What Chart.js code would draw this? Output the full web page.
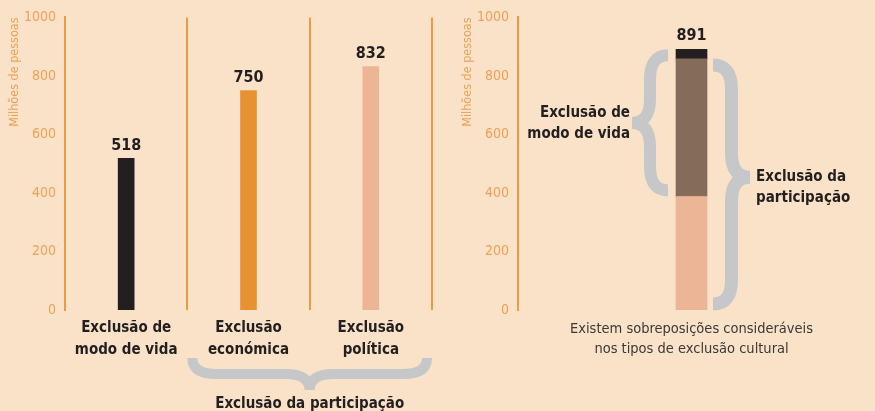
<!DOCTYPE html>
<html>
<head>
<meta charset="utf-8">
<script src="https://cdn.jsdelivr.net/npm/chart.js@4.4.1/dist/chart.umd.min.js"></script>
<style>
  html, body { margin: 0; padding: 0; background: #f9e2c7; }
  #wrap { position: relative; width: 875px; height: 411px; overflow: hidden; }
  #left { position: absolute; left: 0; top: 0; }
  #right { position: absolute; left: 440px; top: 0; }
</style>
</head>
<body>
<div id="wrap">
  <canvas id="left" width="440" height="411"></canvas>
  <canvas id="right" width="435" height="411"></canvas>
</div>
<script>
// left chart: people per type of cultural exclusion (millions)
const categories = [["Exclusão de", "modo de vida"], ["Exclusão", "económica"], ["Exclusão", "política"]];
const peopleMillions = [518, 750, 832];
const groupLabel = "Exclusão da participação";   // brace under the last two categories

// right chart: overlap between the two kinds of exclusion
const overlapCategory = [["Existem sobreposições consideráveis", "nos tipos de exclusão cultural"]];
const participationOnly = [388];
const bothKinds = [470];
const livingModeOnly = [33];
const leftBraceLabel = ["Exclusão de", "modo de vida"];
const rightBraceLabel = ["Exclusão da", "participação"];

const yTicks = { min: 0, max: 1000, step: 200 };
const yTitle = "Milhões de pessoas";

const NARROW = "'Liberation Sans Narrow', 'DejaVu Sans Condensed', sans-serif";
const ORANGE = '#ec9a45';
const TICK = '#eca158';
const DARK = '#231f20';
const GREY = '#c6c7c8';

Chart.defaults.font.family = NARROW;

function yScale(width) {
  return {
    min: yTicks.min, max: yTicks.max,
    ticks: { stepSize: yTicks.step, color: TICK, font: { size: 14 }, padding: 9, callback: (v) => String(v) },
    grid: { display: false, drawTicks: false },
    border: { display: true, color: ORANGE, width: 2 },
    afterFit: (s) => { s.width = width; }
  };
}

// rotated axis title at the top of the axis
const axisTitle = {
  id: 'axisTitle',
  afterDraw(chart, args, opts) {
    const { ctx, chartArea } = chart;
    ctx.save();
    ctx.translate(opts.x, chartArea.top);
    ctx.rotate(-Math.PI / 2);
    ctx.font = `12.5px ${NARROW}`;
    ctx.fillStyle = TICK;
    ctx.textAlign = 'right';
    ctx.textBaseline = 'middle';
    ctx.fillText(yTitle, 0, 0);
    ctx.restore();
  }
};

// total above each bar
const totals = {
  id: 'totals',
  afterDatasetsDraw(chart) {
    const { ctx } = chart;
    const sets = chart.data.datasets;
    const top = chart.getDatasetMeta(sets.length - 1);
    ctx.save();
    ctx.font = `bold 16px ${NARROW}`;
    ctx.fillStyle = DARK;
    ctx.textAlign = 'center';
    ctx.textBaseline = 'middle';
    top.data.forEach((bar, i) => {
      const total = sets.reduce((s, d) => s + d.data[i], 0);
      ctx.fillText(total, bar.x, bar.y - 13);
    });
    ctx.restore();
  }
};

// vertical curly brace, tip on the side of xTip
function braceV(ctx, xEnd, xTip, yTop, yBot, t, w) {
  const xBar = (xEnd + xTip) / 2;
  const yMid = yTop + (yBot - yTop) * t;
  const r = 24;
  ctx.lineWidth = w;
  ctx.lineCap = 'butt';
  ctx.beginPath();
  ctx.moveTo(xEnd, yTop);
  ctx.quadraticCurveTo(xBar, yTop, xBar, yTop + r);
  ctx.lineTo(xBar, yMid - r);
  ctx.quadraticCurveTo(xBar, yMid, xTip, yMid);
  ctx.moveTo(xEnd, yBot);
  ctx.quadraticCurveTo(xBar, yBot, xBar, yBot - r);
  ctx.lineTo(xBar, yMid + r);
  ctx.quadraticCurveTo(xBar, yMid, xTip, yMid);
  ctx.stroke();
  return yMid;
}

// horizontal brace, opening upwards
function braceH(ctx, xLeft, xRight, yEnd, yTip, w) {
  const yBar = (yEnd + yTip) / 2;
  const xMid = (xLeft + xRight) / 2;
  const r = 24;
  ctx.lineWidth = w;
  ctx.lineCap = 'butt';
  ctx.beginPath();
  ctx.moveTo(xLeft, yEnd);
  ctx.quadraticCurveTo(xLeft, yBar, xLeft + r, yBar);
  ctx.lineTo(xMid - r, yBar);
  ctx.quadraticCurveTo(xMid, yBar, xMid, yTip);
  ctx.moveTo(xRight, yEnd);
  ctx.quadraticCurveTo(xRight, yBar, xRight - r, yBar);
  ctx.lineTo(xMid + r, yBar);
  ctx.quadraticCurveTo(xMid, yBar, xMid, yTip);
  ctx.stroke();
  return xMid;
}

const groupBrace = {
  id: 'groupBrace',
  afterDraw(chart) {
    const { ctx, chartArea } = chart;
    const x = chart.scales.x;
    const half = (x.getPixelForValue(1) - x.getPixelForValue(0)) / 2;
    const xl = x.getPixelForValue(1) - half + 5;
    const xr = x.getPixelForValue(2) + half - 5;
    ctx.save();
    ctx.strokeStyle = GREY;
    const xm = braceH(ctx, xl, xr, chartArea.bottom + 48, chartArea.bottom + 80, 10);
    ctx.font = `bold 15px ${NARROW}`;
    ctx.fillStyle = DARK;
    ctx.textAlign = 'center';
    ctx.textBaseline = 'middle';
    ctx.fillText(groupLabel, xm, chartArea.bottom + 94);
    ctx.restore();
  }
};

const overlapBraces = {
  id: 'overlapBraces',
  afterDraw(chart) {
    const { ctx } = chart;
    const y = chart.scales.y;
    const bar = chart.getDatasetMeta(0).data[0];
    const bl = bar.x - bar.width / 2, br = bar.x + bar.width / 2;
    const total = participationOnly[0] + bothKinds[0] + livingModeOnly[0];
    ctx.save();
    ctx.strokeStyle = GREY;
    // living mode exclusion: top of bar down to end of participation-only part
    const ly = braceV(ctx, bl - 8, bl - 44, y.getPixelForValue(total) + 6,
      y.getPixelForValue(participationOnly[0]) - 6, 0.5, 12);
    // participation exclusion: bottom of bar up to end of overlap part
    const ry = braceV(ctx, br + 6, br + 43, y.getPixelForValue(participationOnly[0] + bothKinds[0]) + 6,
      y.getPixelForValue(0) - 6, 0.47, 13);
    ctx.font = `bold 15px ${NARROW}`;
    ctx.fillStyle = DARK;
    ctx.textBaseline = 'middle';
    ctx.textAlign = 'right';
    ctx.fillText(leftBraceLabel[0], bl - 46, ly - 10);
    ctx.fillText(leftBraceLabel[1], bl - 46, ly + 11);
    ctx.textAlign = 'left';
    ctx.fillText(rightBraceLabel[0], br + 49, ry);
    ctx.fillText(rightBraceLabel[1], br + 49, ry + 21);
    ctx.restore();
  }
};

new Chart('left', {
  type: 'bar',
  plugins: [axisTitle, totals, groupBrace],
  data: {
    labels: categories,
    datasets: [{ data: peopleMillions, backgroundColor: [DARK, '#e69233', '#ecb596'], barThickness: 16 }]
  },
  options: {
    responsive: false,
    animation: false,
    layout: { padding: { top: 13, right: 8, left: 0, bottom: 0 } },
    plugins: { legend: { display: false }, tooltip: { enabled: false }, axisTitle: { x: 15 } },
    scales: {
      x: {
        ticks: { color: DARK, font: { size: 15, weight: 'bold', lineHeight: 1.45 }, padding: 7, maxRotation: 0, autoSkip: false },
        grid: { display: true, color: ORANGE, lineWidth: 2, drawTicks: false, offset: true },
        border: { display: false },
        afterFit: (s) => { s.height = 101; }
      },
      y: yScale(65)
    }
  }
});

new Chart('right', {
  type: 'bar',
  plugins: [axisTitle, totals, overlapBraces],
  data: {
    labels: overlapCategory,
    datasets: [
      { data: participationOnly, backgroundColor: '#ecb596', barThickness: 31 },
      { data: bothKinds, backgroundColor: '#856b5a', barThickness: 31 },
      { data: livingModeOnly, backgroundColor: DARK, barThickness: 31 }
    ]
  },
  options: {
    responsive: false,
    animation: false,
    layout: { padding: { top: 13, right: 10, left: 0, bottom: 0 } },
    plugins: { legend: { display: false }, tooltip: { enabled: false }, axisTitle: { x: 28 } },
    scales: {
      x: {
        stacked: true,
        ticks: { color: '#3a3839', font: { size: 14.5, lineHeight: 1.4 }, padding: 9, maxRotation: 0, autoSkip: false },
        grid: { display: false, drawTicks: false },
        border: { display: false },
        afterFit: (s) => { s.height = 101; }
      },
      y: Object.assign(yScale(78), { stacked: true })
    }
  }
});
</script>
</body>
</html>
